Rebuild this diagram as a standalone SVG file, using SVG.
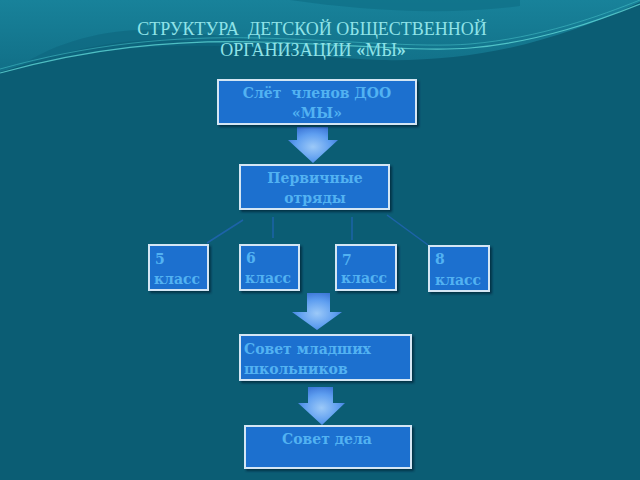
<svg xmlns="http://www.w3.org/2000/svg" width="640" height="480" viewBox="0 0 640 480">
<defs>
<linearGradient id="bg" x1="0" y1="0" x2="0" y2="1">
<stop offset="0" stop-color="#18829a"/>
<stop offset="1" stop-color="#116f87"/>
</linearGradient>
<radialGradient id="arr" cx="0.5" cy="0.55" r="0.6">
<stop offset="0" stop-color="#9cc9f8"/>
<stop offset="0.6" stop-color="#5e9ef0"/>
<stop offset="1" stop-color="#3a74d6"/>
</radialGradient>
<filter id="sh" x="-10%" y="-10%" width="130%" height="140%">
<feDropShadow dx="2" dy="2" stdDeviation="1" flood-color="#05283a" flood-opacity="0.8"/>
</filter>
</defs>
<style>
.box{fill:#1f6fcf;stroke:#d4e6f4;stroke-width:2;filter:url(#sh)}
.t{font-family:"DejaVu Serif","Liberation Serif",serif;font-weight:bold;font-size:14px;fill:#52b2f2;white-space:pre}
.h{font-family:"Liberation Serif","DejaVu Serif",serif;font-size:18px;fill:#8fe3e8;white-space:pre}
.ln{stroke:#1d63a8;stroke-width:1.5;fill:none}
.ar{fill:url(#arr)}
</style>
<rect width="640" height="480" fill="#0b5d74"/>
<path d="M0,0 H640 V2 C560,40 480,62 380,60 C300,58 220,38 150,40 C90,42 40,60 0,72 Z" fill="url(#bg)"/>
<path d="M20,66 C60,40 110,28 160,30 C200,32 240,40 300,44 L300,50 C220,46 150,38 20,66 Z" fill="#0e6880" opacity="0.7"/>
<path d="M0,73 C90,48 170,40 260,42 C340,44 420,52 470,48 C540,42 600,20 640,4" fill="none" stroke="#5fd6d6" stroke-width="1.2" opacity="0.8"/>
<path d="M0,69 C90,44 170,36 260,38 C340,40 420,48 470,44 C540,38 600,16 640,0" fill="none" stroke="#46c0c8" stroke-width="0.8" opacity="0.7"/>
<path d="M290,0 C360,10 440,16 520,6 L520,0 Z" fill="#0e6c84" opacity="0.6"/>
<g id="title">
<text class="h" x="312" y="35" text-anchor="middle">СТРУКТУРА  ДЕТСКОЙ ОБЩЕСТВЕННОЙ</text>
<text class="h" x="313" y="56" text-anchor="middle">ОРГАНИЗАЦИИ <tspan font-weight="bold">«</tspan>МЫ<tspan font-weight="bold">»</tspan></text>
</g>
<g id="connectors">
<path class="ln" d="M243,220 L207,243"/>
<path class="ln" d="M273,217 L273,238"/>
<path class="ln" d="M352,217 L352,240"/>
<path class="ln" d="M387,215 L428,245"/>
<path class="ar" d="M297,127 H328 V140 H338 L313,163 L288,140 H297 Z"/>
<path class="ar" d="M307,293 H330 V312 H342 L317,330 L292,312 H307 Z"/>
<path class="ar" d="M308,387 H333 V403 H345 L322,425 L298,403 H308 Z"/>
</g>
<g id="n1">
<rect class="box" x="218" y="80" width="198" height="44"/>
<text class="t" x="317" y="98" text-anchor="middle">Слёт  членов ДОО</text>
<text class="t" x="317" y="118" text-anchor="middle">«МЫ»</text>
</g>
<g id="n2">
<rect class="box" x="240" y="165" width="149" height="44"/>
<text class="t" x="315" y="183" text-anchor="middle">Первичные</text>
<text class="t" x="315" y="203" text-anchor="middle">отряды</text>
</g>
<g id="c5">
<rect class="box" x="149" y="245" width="59" height="45"/>
<text class="t" x="155" y="264">5</text>
<text class="t" x="154" y="284">класс</text>
</g>
<g id="c6">
<rect class="box" x="240" y="245" width="59" height="45"/>
<text class="t" x="246" y="263">6</text>
<text class="t" x="245" y="283">класс</text>
</g>
<g id="c7">
<rect class="box" x="336" y="245" width="60" height="45"/>
<text class="t" x="342" y="265">7</text>
<text class="t" x="341" y="283">класс</text>
</g>
<g id="c8">
<rect class="box" x="429" y="246" width="60" height="45"/>
<text class="t" x="435" y="264">8</text>
<text class="t" x="435" y="285">класс</text>
</g>
<g id="n3">
<rect class="box" x="240" y="335" width="171" height="45"/>
<text class="t" x="244" y="354">Совет младших</text>
<text class="t" x="244" y="374">школьников</text>
</g>
<g id="n4">
<rect class="box" x="245" y="426" width="166" height="42"/>
<text class="t" x="327" y="444" text-anchor="middle">Совет дела</text>
</g>
</svg>
